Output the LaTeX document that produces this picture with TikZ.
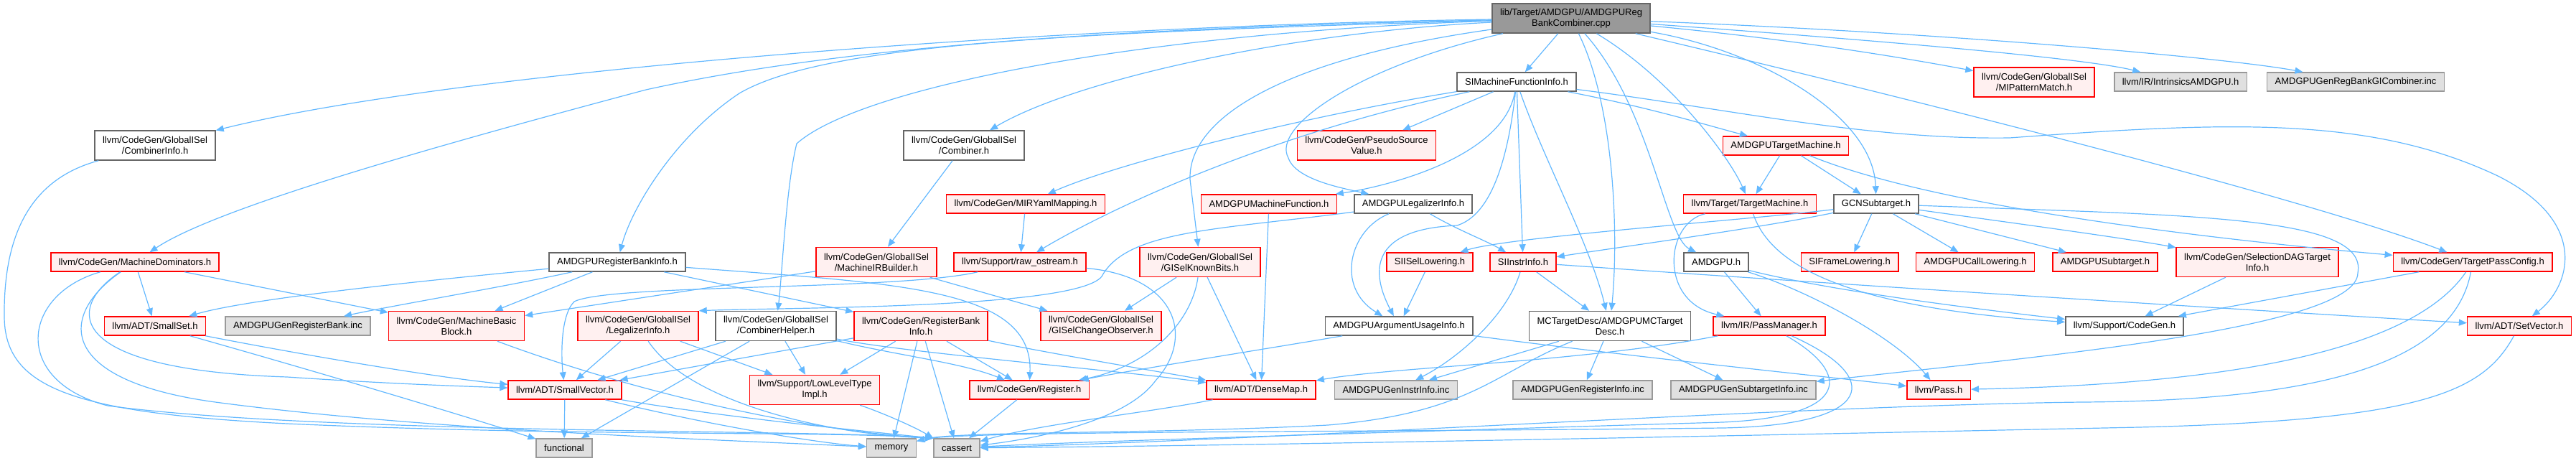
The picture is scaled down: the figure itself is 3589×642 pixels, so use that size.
\documentclass[tikz,border=0pt]{standalone}
\usepackage{fontspec}
\setmainfont{Liberation Sans}
\usetikzlibrary{arrows.meta}
\definecolor{linkblue}{HTML}{63B8FF}
\definecolor{docline}{HTML}{666666}
\definecolor{truncfill}{HTML}{FFF0F0}
\definecolor{sysfill}{HTML}{E0E0E0}
\definecolor{sysline}{HTML}{999999}
\definecolor{curfill}{HTML}{999999}

\begin{document}
\begin{tikzpicture}[
  x=1pt, y=-1pt,
  font=\fontsize{13}{15}\selectfont,
  box/.style={draw, align=center, inner xsep=11pt, inner ysep=2pt, minimum height=26pt, line width=1.5pt},
  doc/.style={box, draw=docline, fill=white},
  trunc/.style={box, draw=red, fill=truncfill},
  sys/.style={box, draw=sysline, fill=sysfill},
  cur/.style={box, draw=docline, fill=curfill},
  two/.style={minimum height=41pt},
  arrow/.style={draw=linkblue, line width=1.2pt, -{Triangle[length=11pt,width=9pt]}}
]
\useasboundingbox (0,0) rectangle (3589,642);

\node[cur, two] (root) at (2189,25.5) {lib/Target/AMDGPU/AMDGPUReg\\BankCombiner.cpp};
\node[doc] (simfi) at (2113,114) {SIMachineFunctionInfo.h};
\node[trunc, two] (mipm) at (2834,114.5) {llvm/CodeGen/GlobalISel\\/MIPatternMatch.h};
\node[sys] (intr) at (3038,114) {llvm/IR/IntrinsicsAMDGPU.h};
\node[sys] (gicomb) at (3282,114) {AMDGPUGenRegBankGICombiner.inc};
\node[doc, two] (cinfo) at (216,202.5) {llvm/CodeGen/GlobalISel\\/CombinerInfo.h};
\node[doc, two] (comb) at (1343,202.5) {llvm/CodeGen/GlobalISel\\/Combiner.h};
\node[trunc, two] (psv) at (1904,202.5) {llvm/CodeGen/PseudoSource\\Value.h};
\node[trunc] (amdtm) at (2488,203) {AMDGPUTargetMachine.h};
\node[trunc] (mirym) at (1429,284) {llvm/CodeGen/MIRYamlMapping.h};
\node[trunc] (amdmf) at (1768,284) {AMDGPUMachineFunction.h};
\node[doc] (amdli) at (1969,284) {AMDGPULegalizerInfo.h};
\node[trunc] (tm) at (2438,284) {llvm/Target/TargetMachine.h};
\node[doc] (gcn) at (2614,284) {GCNSubtarget.h};
\node[trunc] (mdom) at (188,365) {llvm/CodeGen/MachineDominators.h};
\node[doc] (rbi) at (860,365) {AMDGPURegisterBankInfo.h};
\node[trunc, two] (mirb) at (1221,365) {llvm/CodeGen/GlobalISel\\/MachineIRBuilder.h};
\node[trunc] (rawos) at (1421,365) {llvm/Support/raw\_ostream.h};
\node[trunc, two] (gkb) at (1672,365) {llvm/CodeGen/GlobalISel\\/GISelKnownBits.h};
\node[trunc] (sisel) at (1992,365) {SIISelLowering.h};
\node[trunc] (siinstr) at (2122,365) {SIInstrInfo.h};
\node[doc] (amdgpu) at (2391,365) {AMDGPU.h};
\node[trunc] (siframe) at (2577,365) {SIFrameLowering.h};
\node[trunc] (calllow) at (2752,365) {AMDGPUCallLowering.h};
\node[trunc] (amdsub) at (2933,365) {AMDGPUSubtarget.h};
\node[trunc, two] (seldag) at (3145,365) {llvm/CodeGen/SelectionDAGTarget\\Info.h};
\node[trunc] (tpc) at (3445,365) {llvm/CodeGen/TargetPassConfig.h};
\node[trunc] (smallset) at (216,454) {llvm/ADT/SmallSet.h};
\node[sys] (genrb) at (415,454) {AMDGPUGenRegisterBank.inc};
\node[trunc, two] (mbb) at (636,454) {llvm/CodeGen/MachineBasic\\Block.h};
\node[trunc, two] (legal) at (889,454) {llvm/CodeGen/GlobalISel\\/LegalizerInfo.h};
\node[doc, two] (chelp) at (1081,454) {llvm/CodeGen/GlobalISel\\/CombinerHelper.h};
\node[trunc, two] (regbank) at (1283,454) {llvm/CodeGen/RegisterBank\\Info.h};
\node[trunc, two] (gco) at (1534,454) {llvm/CodeGen/GlobalISel\\/GISelChangeObserver.h};
\node[doc] (argui) at (1949,454) {AMDGPUArgumentUsageInfo.h};
\node[doc, two] (mctd) at (2243,454) {MCTargetDesc/AMDGPUMCTarget\\Desc.h};
\node[trunc] (passmgr) at (2465,454) {llvm/IR/PassManager.h};
\node[doc] (codegen) at (2960,454) {llvm/Support/CodeGen.h};
\node[trunc] (setvec) at (3510,454) {llvm/ADT/SetVector.h};
\node[trunc] (smallvec) at (787,543) {llvm/ADT/SmallVector.h};
\node[trunc, two] (llt) at (1135,543) {llvm/Support/LowLevelType\\Impl.h};
\node[trunc] (register) at (1434,543) {llvm/CodeGen/Register.h};
\node[trunc] (densemap) at (1757,543) {llvm/ADT/DenseMap.h};
\node[sys] (geninstr) at (1945,543) {AMDGPUGenInstrInfo.inc};
\node[sys] (genreg) at (2205,543) {AMDGPUGenRegisterInfo.inc};
\node[sys] (gensub) at (2429,543) {AMDGPUGenSubtargetInfo.inc};
\node[trunc] (pass) at (2701,543) {llvm/Pass.h};
\node[sys] (functional) at (786,624) {functional};
\node[sys] (memory) at (1242,624) {memory};
\node[sys] (cassert) at (1333,624) {cassert};

\draw[arrow] (root) -- (simfi);
\draw[arrow] (root) .. controls (1500,35) and (650,95) .. (cinfo);
\draw[arrow] (root) .. controls (1500,40) and (1150,70) .. (900,125) .. controls (600,205) and (300,290) .. (mdom);
\draw[arrow] (root) .. controls (1500,45) and (1150,60) .. (1030,130) .. controls (940,190) and (880,290) .. (rbi);
\draw[arrow] (root) .. controls (1600,45) and (1200,120) .. (1110,200) .. controls (1095,260) and (1090,380) .. (chelp);
\draw[arrow] (root) .. controls (1800,45) and (1500,110) .. (comb);
\draw[arrow] (root) .. controls (1800,80) and (1655,160) .. (1658,250) -- (gkb);
\draw[arrow] (root) .. controls (1900,90) and (1770,175) .. (1795,220) .. controls (1805,250) and (1870,262) .. (amdli);
\draw[arrow] (root) .. controls (2250,150) and (2255,330) .. (mctd);
\draw[arrow] (root) .. controls (2300,150) and (2320,330) .. (amdgpu);
\draw[arrow] (root) .. controls (2330,110) and (2410,220) .. (tm);
\draw[arrow] (root) .. controls (2450,70) and (2610,160) .. (gcn);
\draw[arrow] (root) .. controls (2800,170) and (3250,290) .. (tpc);
\draw[arrow] (root) .. controls (2500,55) and (2650,80) .. (mipm);
\draw[arrow] (root) .. controls (2600,55) and (2900,80) .. (intr);
\draw[arrow] (root) .. controls (2700,45) and (3100,80) .. (gicomb);

\draw[arrow] (simfi) .. controls (1800,165) and (1550,230) .. (mirym);
\draw[arrow] (simfi) .. controls (1750,190) and (1530,300) .. (rawos);
\draw[arrow] (simfi) -- (psv);
\draw[arrow] (simfi) .. controls (2095,220) and (1930,260) .. (amdmf);
\draw[arrow] (simfi) .. controls (2100,230) and (2075,300) .. (2030,314) .. controls (1930,318) and (1900,360) .. (argui);
\draw[arrow] (simfi) -- (siinstr);
\draw[arrow] (simfi) .. controls (2150,220) and (2215,340) .. (mctd);
\draw[arrow] (simfi) .. controls (2300,150) and (2380,175) .. (amdtm);
\draw[arrow] (simfi) .. controls (2400,150) and (2600,195) .. (2800,192) .. controls (3100,170) and (3300,160) .. (3480,245) .. controls (3610,310) and (3580,400) .. (setvec);

\draw[arrow] (amdtm) -- (tm);
\draw[arrow] (amdtm) -- (gcn);
\draw[arrow] (amdtm) .. controls (2700,290) and (3100,335) .. (tpc);

\draw[arrow] (gcn) .. controls (2450,305) and (2100,330) .. (sisel);
\draw[arrow] (gcn) .. controls (2450,318) and (2250,345) .. (siinstr);
\draw[arrow] (gcn) -- (siframe);
\draw[arrow] (gcn) -- (calllow);
\draw[arrow] (gcn) -- (amdsub);
\draw[arrow] (gcn) .. controls (2800,310) and (2950,330) .. (seldag);
\draw[arrow] (gcn) .. controls (3050,300) and (3300,300) .. (3285,380) .. controls (3285,460) and (2800,500) .. (gensub);

\draw[arrow] (amdgpu) -- (passmgr);
\draw[arrow] (amdgpu) .. controls (2520,405) and (2640,470) .. (pass);
\draw[arrow] (amdgpu) .. controls (2550,405) and (2750,430) .. (codegen);
\draw[arrow] (tm) .. controls (2320,310) and (2310,420) .. (passmgr);
\draw[arrow] (tm) .. controls (2470,380) and (2600,430) .. (codegen);

\draw[arrow] (siinstr) -- (mctd);
\draw[arrow] (siinstr) .. controls (2100,440) and (2030,500) .. (geninstr);
\draw[arrow] (siinstr) .. controls (2500,392) and (3100,430) .. (setvec);
\draw[arrow] (sisel) -- (argui);

\draw[arrow] (amdli) .. controls (1880,320) and (1860,400) .. (argui);
\draw[arrow] (amdli) .. controls (2030,320) and (2070,335) .. (siinstr);
\draw[arrow] (amdli) .. controls (1700,320) and (1570,320) .. (1535,385) .. controls (1500,430) and (1100,428) .. (legal.north east);

\draw[arrow] (argui) .. controls (1800,480) and (1580,515) .. (register);
\draw[arrow] (argui) .. controls (2300,500) and (2550,525) .. (pass);

\draw[arrow] (mctd) -- (geninstr);
\draw[arrow] (mctd) -- (genreg);
\draw[arrow] (mctd) -- (gensub);
\draw[arrow] (mctd) .. controls (2080,520) and (2050,575) .. (1850,592) .. controls (1600,605) and (1330,600) .. (memory);

\draw[arrow] (passmgr) .. controls (2200,505) and (1950,510) .. (densemap);
\draw[arrow] (passmgr) .. controls (2580,520) and (2580,580) .. (2400,588) .. controls (2000,600) and (1500,615) .. (cassert);
\draw[arrow] (passmgr) .. controls (2625,525) and (2615,592) .. (2400,596) .. controls (1900,602) and (1330,600) .. (memory);

\draw[arrow] (tpc) -- (codegen);
\draw[arrow] (tpc) .. controls (3360,490) and (3100,535) .. (pass);
\draw[arrow] (tpc) .. controls (3420,500) and (3250,558) .. (2900,560) .. controls (2500,565) and (1800,612) .. (cassert);
\draw[arrow] (setvec) .. controls (3460,545) and (3380,585) .. (2980,595) .. controls (2500,605) and (1800,620) .. (cassert);
\draw[arrow] (seldag) -- (codegen);

\draw[arrow] (rawos) .. controls (1250,405) and (850,395) .. (800,420) .. controls (780,440) and (782,500) .. (smallvec);
\draw[arrow] (rawos) .. controls (1640,385) and (1665,470) .. (1610,530) .. controls (1570,585) and (1450,610) .. (cassert);
\draw[arrow] (mirym) -- (rawos);
\draw[arrow] (comb) -- (mirb);
\draw[arrow] (amdmf) -- (densemap);

\draw[arrow] (gkb) -- (gco);
\draw[arrow] (gkb) .. controls (1660,450) and (1600,510) .. (register);
\draw[arrow] (gkb) -- (densemap);
\draw[arrow] (mirb) -- (mbb);
\draw[arrow] (mirb) -- (gco);

\draw[arrow] (rbi) .. controls (600,390) and (350,415) .. (smallset);
\draw[arrow] (rbi) .. controls (700,400) and (550,425) .. (genrb);
\draw[arrow] (rbi) -- (mbb);
\draw[arrow] (rbi) -- (regbank);
\draw[arrow] (rbi) .. controls (1250,395) and (1440,400) .. (register);

\draw[arrow] (mdom) -- (smallset);
\draw[arrow] (mdom) -- (mbb);
\draw[arrow] (mdom) .. controls (90,430) and (90,515) .. (400,525) .. controls (550,535) and (650,538) .. (smallvec);
\draw[arrow] (mdom) .. controls (80,440) and (80,530) .. (300,560) .. controls (600,600) and (1000,612) .. (memory);
\draw[arrow] (mdom) .. controls (30,410) and (15,530) .. (150,565) .. controls (450,605) and (1150,598) .. (cassert.north west);
\draw[arrow] (cinfo) .. controls (40,250) and (5,330) .. (6,440) .. controls (6,540) and (100,575) .. (400,590) .. controls (800,608) and (1150,600) .. (cassert.north west);

\draw[arrow] (smallset) .. controls (400,490) and (600,525) .. (smallvec);
\draw[arrow] (smallset) .. controls (450,520) and (650,580) .. (functional);
\draw[arrow] (mbb) .. controls (880,545) and (1120,600) .. (cassert.north west);

\draw[arrow] (legal) -- (smallvec);
\draw[arrow] (legal) -- (llt);
\draw[arrow] (legal) .. controls (960,560) and (1150,605) .. (cassert.north west);
\draw[arrow] (chelp) -- (smallvec);
\draw[arrow] (chelp) -- (functional);
\draw[arrow] (chelp) -- (llt);
\draw[arrow] (chelp) .. controls (1250,490) and (1550,515) .. (densemap);
\draw[arrow] (chelp) .. controls (1250,495) and (1340,505) .. (register);

\draw[arrow] (regbank) -- (smallvec);
\draw[arrow] (regbank) -- (llt);
\draw[arrow] (regbank) -- (memory);
\draw[arrow] (regbank) -- (cassert);
\draw[arrow] (regbank) -- (register);
\draw[arrow] (regbank) .. controls (1450,490) and (1600,515) .. (densemap);

\draw[arrow] (smallvec) -- (functional);
\draw[arrow] (smallvec) .. controls (1000,580) and (1200,600) .. (cassert.north west);
\draw[arrow] (smallvec) .. controls (1000,595) and (1150,618) .. (memory);
\draw[arrow] (llt) .. controls (1230,575) and (1275,595) .. (cassert.north west);
\draw[arrow] (register) -- (cassert);
\draw[arrow] (densemap) .. controls (1600,575) and (1450,590) .. (cassert);
\end{tikzpicture}
\end{document}
